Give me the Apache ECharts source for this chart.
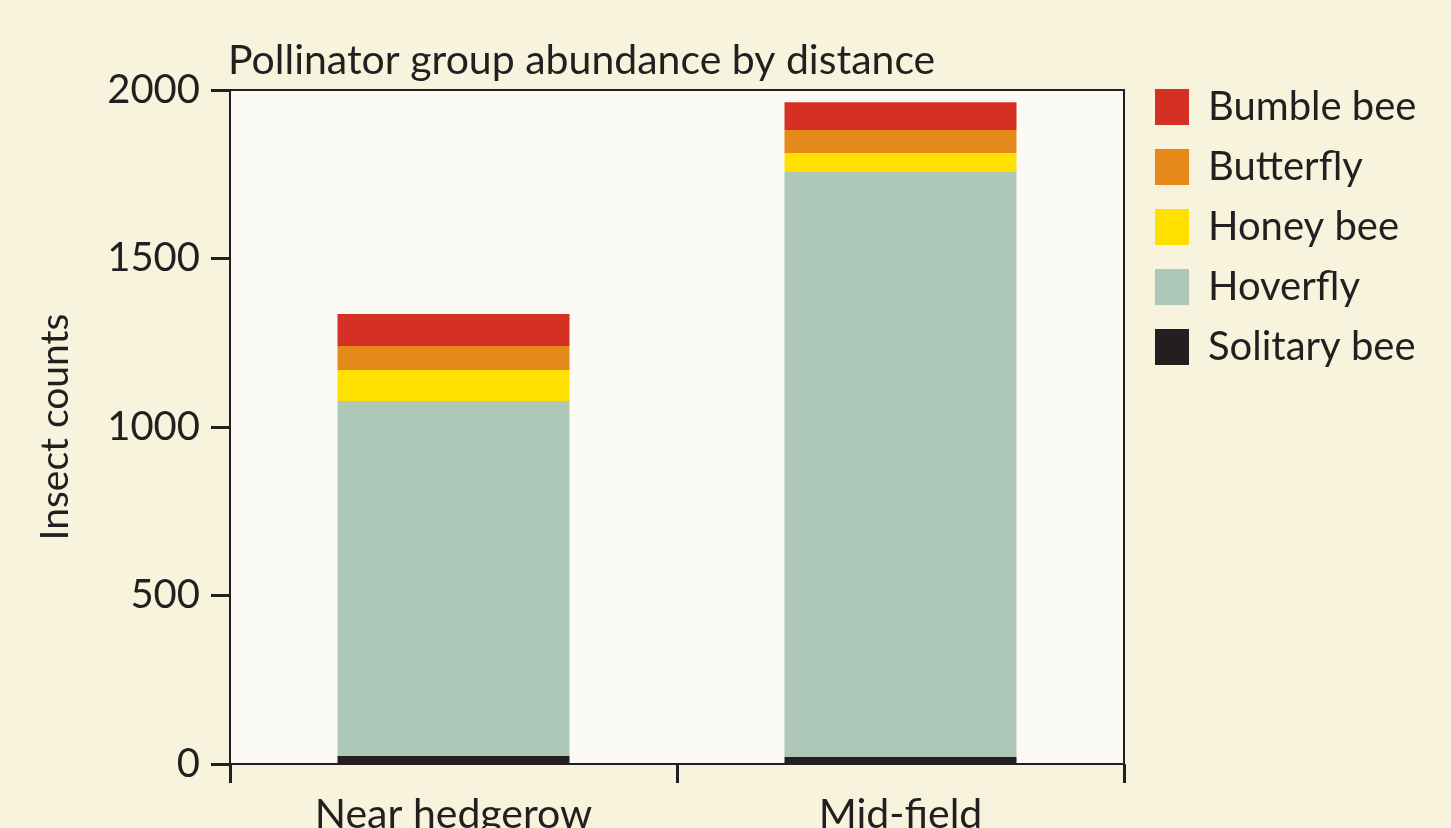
<!DOCTYPE html>
<html>
<head>
<meta charset="utf-8">
<script src="https://cdn.jsdelivr.net/npm/echarts@6/dist/echarts.min.js"></script>
<style>
  html, body { margin: 0; padding: 0; background: #f7f3dc; }
  #main { width: 1451px; height: 828px; }
</style>
</head>
<body>
<div id="main"></div>
<script>
// chart data
var categories = ['Near hedgerow', 'Mid-field'];
var solitaryBee = [24, 21];
var hoverfly = [1053, 1736];
var honeyBee = [92, 56];
var butterfly = [71, 68];
var bumbleBee = [95, 83];
var yTicks = { min: 0, max: 2000, interval: 500 };

var ink = '#231f20';
var font = 'Lato';

function bar(name, data, color) {
  return {
    name: name,
    type: 'bar',
    stack: 'total',
    data: data,
    barWidth: 232,
    itemStyle: { color: color },
    emphasis: { disabled: true }
  };
}

var myChart = echarts.init(document.getElementById('main'));
var option = {
  backgroundColor: '#f7f3dc',
  animation: false,
  title: {
    text: 'Pollinator group abundance by distance',
    left: 228,
    top: 40,
    padding: 0,
    textStyle: { color: ink, fontFamily: font, fontWeight: 'normal', fontSize: 41 }
  },
  legend: {
    orient: 'vertical',
    left: 1155,
    top: 87,
    padding: 0,
    icon: 'rect',
    itemWidth: 34,
    itemHeight: 36,
    itemGap: 20,
    data: ['Bumble bee', 'Butterfly', 'Honey bee', 'Hoverfly', 'Solitary bee'],
    textStyle: { color: ink, fontFamily: font, fontSize: 40, padding: [0, 0, 0, 14] }
  },
  grid: {
    left: 230,
    right: 327,
    top: 90,
    bottom: 64,
    outerBoundsMode: 'none',
    show: true,
    backgroundColor: '#fbfaf5',
    borderColor: ink,
    borderWidth: 2
  },
  xAxis: {
    type: 'category',
    data: categories,
    axisLine: { lineStyle: { color: ink, width: 2 } },
    axisTick: { show: true, length: 19, lineStyle: { color: ink, width: 3 } },
    axisLabel: { color: ink, fontFamily: font, fontSize: 41, margin: 30 }
  },
  yAxis: {
    type: 'value',
    min: yTicks.min,
    max: yTicks.max,
    interval: yTicks.interval,
    name: 'Insect counts',
    nameLocation: 'middle',
    nameGap: 155,
    nameTextStyle: { color: ink, fontFamily: font, fontSize: 39 },
    splitLine: { show: false },
    axisLine: { show: true, lineStyle: { color: ink, width: 2 } },
    axisTick: { show: true, length: 19, lineStyle: { color: ink, width: 3 } },
    axisLabel: {
      color: ink, fontFamily: font, fontSize: 40, margin: 30,
      formatter: function (v) { return String(v); }
    }
  },
  series: [
    bar('Solitary bee', solitaryBee, '#231f20'),
    bar('Hoverfly', hoverfly, '#adc8b9'),
    bar('Honey bee', honeyBee, '#ffe000'),
    bar('Butterfly', butterfly, '#e6891b'),
    bar('Bumble bee', bumbleBee, '#d43024')
  ]
};
myChart.setOption(option);
window.addEventListener('resize', function () {
  myChart.resize();
});
</script>
</body>
</html>
